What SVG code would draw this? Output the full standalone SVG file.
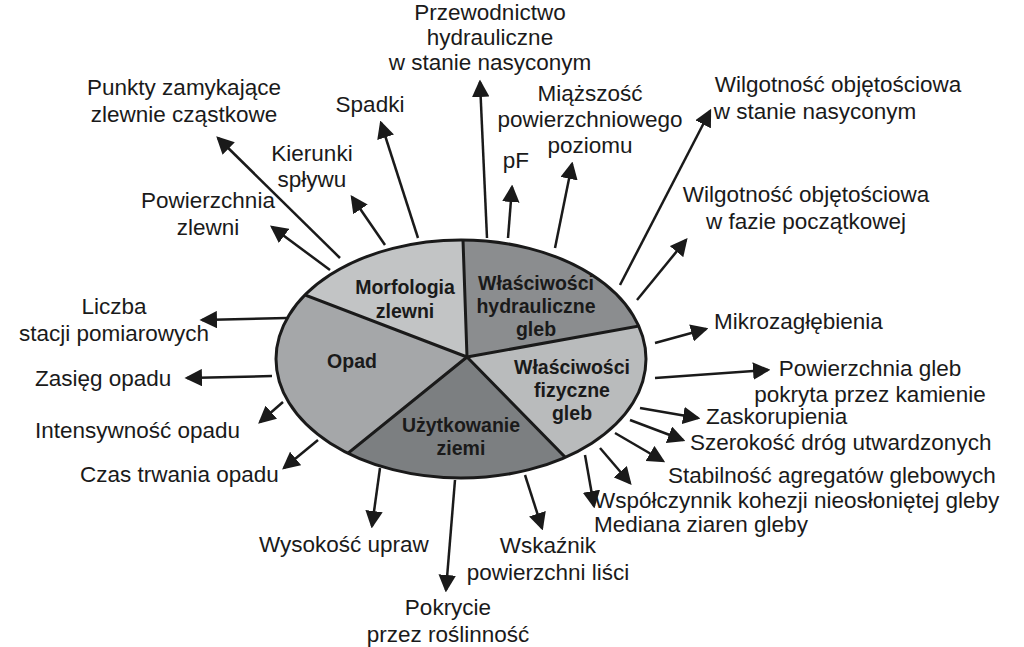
<svg xmlns="http://www.w3.org/2000/svg" width="1024" height="647" viewBox="0 0 1024 647">
<style>
text{font-family:"Liberation Sans",Arial,sans-serif;font-size:22.5px;fill:#1a1a1a}
.b{font-weight:bold;font-size:19.5px;text-anchor:middle}
.c{text-anchor:middle}
.s{stroke:#1a1a1a;stroke-width:3}
line{stroke:#1a1a1a;stroke-width:2.5;marker-end:url(#a)}
</style>
<defs><marker id="a" markerWidth="7" markerHeight="7" refX="6" refY="3.5" orient="auto" markerUnits="strokeWidth"><path d="M0,0L7,3.5L0,7z" fill="#1a1a1a"/></marker></defs>
<rect width="1024" height="647" fill="#fff"/>
<g id="connectors">
<line x1="340" y1="258" x2="218" y2="138"/>
<line x1="330" y1="270" x2="272" y2="227"/>
<line x1="385" y1="245" x2="352" y2="197"/>
<line x1="418" y1="238" x2="381" y2="123"/>
<line x1="487" y1="238" x2="480" y2="82"/>
<line x1="508" y1="238" x2="512" y2="187"/>
<line x1="555" y1="248" x2="572" y2="164"/>
<line x1="620" y1="285" x2="710" y2="111"/>
<line x1="637" y1="300" x2="686" y2="240"/>
<line x1="287" y1="318" x2="202" y2="320"/>
<line x1="272" y1="376" x2="187" y2="378"/>
<line x1="283" y1="402" x2="260" y2="422"/>
<line x1="318" y1="440" x2="284" y2="468"/>
<line x1="655" y1="343" x2="706" y2="329"/>
<line x1="655" y1="378" x2="768" y2="370"/>
<line x1="640" y1="408" x2="698" y2="418"/>
<line x1="630" y1="420" x2="683" y2="440"/>
<line x1="615" y1="433" x2="663" y2="461"/>
<line x1="600" y1="448" x2="630" y2="483"/>
<line x1="585" y1="455" x2="594" y2="506"/>
<line x1="525" y1="475" x2="542" y2="528"/>
<line x1="455" y1="480" x2="446" y2="590"/>
<line x1="380" y1="468" x2="372" y2="526"/>
</g>
<g id="pie">
<clipPath id="e"><ellipse cx="461" cy="359" rx="185" ry="119"/></clipPath>
<g clip-path="url(#e)">
<path d="M467,357L459,123L143,233z" fill="#c2c4c5"/>
<path d="M467,357L459,123L823,123L823,293z" fill="#8b8d8f"/>
<path d="M467,357L143,233L143,543L237,543z" fill="#a5a7a9"/>
<path d="M467,357L823,293L823,557L663,557z" fill="#b9bbbc"/>
<path d="M467,357L237,543L663,557z" fill="#7c7f81"/>
<path class="s" fill="none" d="M467,357L459,123M467,357L143,233M467,357L823,293M467,357L237,543M467,357L663,557"/>
</g>
<ellipse class="s" cx="461" cy="359" rx="185" ry="119" fill="none"/>
</g>
<g id="n-morf"><text class="b" x="405" y="294">Morfologia</text><text class="b" x="405" y="318">zlewni</text></g>
<g id="n-hydr"><text class="b" x="536" y="290">Właściwości</text><text class="b" x="536" y="313">hydrauliczne</text><text class="b" x="536" y="336">gleb</text></g>
<g id="n-opad"><text class="b" x="352" y="368">Opad</text></g>
<g id="n-fiz"><text class="b" x="572" y="374">Właściwości</text><text class="b" x="572" y="397">fizyczne</text><text class="b" x="572" y="420">gleb</text></g>
<g id="n-uzyt"><text class="b" x="461" y="432">Użytkowanie</text><text class="b" x="461" y="455">ziemi</text></g>
<g id="labels">
<text class="c" x="184" y="95">Punkty zamykające</text><text class="c" x="184" y="122">zlewnie cząstkowe</text>
<text class="c" x="208" y="208">Powierzchnia</text><text class="c" x="208" y="235">zlewni</text>
<text class="c" x="312" y="161">Kierunki</text><text class="c" x="312" y="187">spływu</text>
<text class="c" x="370" y="112">Spadki</text>
<text class="c" x="490" y="20">Przewodnictwo</text><text class="c" x="490" y="45">hydrauliczne</text><text class="c" x="490" y="70">w stanie nasyconym</text>
<text class="c" x="516" y="168">pF</text>
<text class="c" x="590" y="101">Miąższość</text><text class="c" x="590" y="127">powierzchniowego</text><text class="c" x="590" y="153">poziomu</text>
<text class="c" x="838" y="92">Wilgotność objętościowa</text><text class="c" x="815" y="119">w stanie nasyconym</text>
<text class="c" x="806" y="202">Wilgotność objętościowa</text><text class="c" x="806" y="229">w fazie początkowej</text>
<text class="c" x="114" y="314">Liczba</text><text class="c" x="114" y="341">stacji pomiarowych</text>
<text x="35" y="386">Zasięg opadu</text>
<text x="35" y="438">Intensywność opadu</text>
<text x="80" y="482">Czas trwania opadu</text>
<text x="714" y="329">Mikrozagłębienia</text>
<text class="c" x="870" y="376">Powierzchnia gleb</text><text class="c" x="870" y="402">pokryta przez kamienie</text>
<text x="706" y="424">Zaskorupienia</text>
<text x="690" y="450">Szerokość dróg utwardzonych</text>
<text x="668" y="483">Stabilność agregatów glebowych</text>
<text x="594" y="508">Współczynnik kohezji nieosłoniętej gleby</text>
<text x="594" y="532">Mediana ziaren gleby</text>
<text class="c" x="548" y="553">Wskaźnik</text><text class="c" x="548" y="580">powierzchni liści</text>
<text x="259" y="552">Wysokość upraw</text>
<text class="c" x="448" y="615">Pokrycie</text><text class="c" x="448" y="642">przez roślinność</text>
</g>
</svg>
